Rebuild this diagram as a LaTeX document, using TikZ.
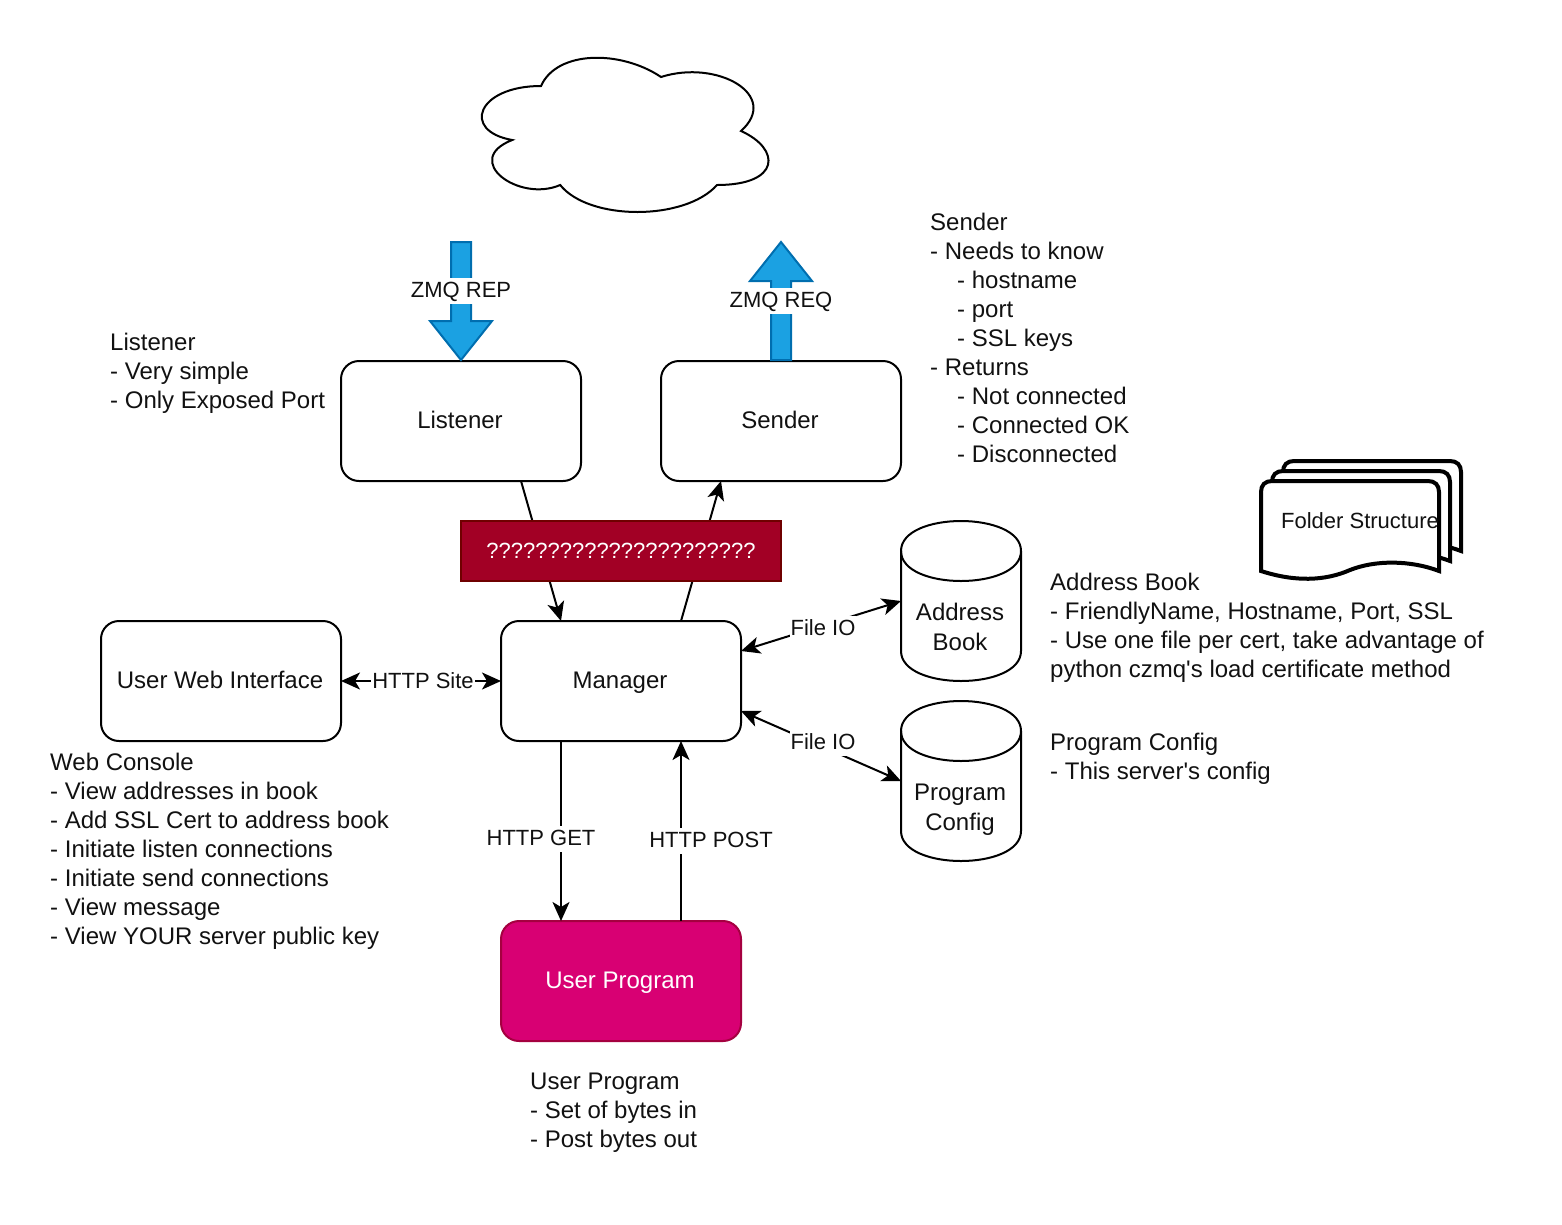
\documentclass[tikz,border=0pt]{standalone}
\usepackage{fontspec}
\setmainfont{Liberation Sans}
\newfontfamily\plainsans{Liberation Sans}
\usetikzlibrary{arrows.meta,calc}
\definecolor{zblue}{HTML}{1BA1E2}
\definecolor{zbluedark}{HTML}{006EAF}
\definecolor{zred}{HTML}{A20025}
\definecolor{zreddark}{HTML}{6F0000}
\definecolor{zpink}{HTML}{D80073}
\definecolor{zpinkdark}{HTML}{A50040}
\definecolor{ztext}{HTML}{111111}
\tikzset{
  x=1pt,y=-1pt,
  basefont/.style={font=\fontsize{24}{29}\selectfont,text=ztext},
  box/.style={basefont,draw=black,line width=2pt,fill=white,rounded corners=18pt,minimum width=240pt,minimum height=120pt,inner sep=0pt,outer sep=0pt,text height=19pt,text depth=5pt,execute at begin node=\kern-2pt},
  pinkbox/.style={box,draw=zpinkdark,fill=zpink,text=white},
  redbox/.style={draw=zreddark,fill=zred,line width=2pt,text=white,minimum width=320pt,minimum height=60pt,inner sep=0pt,outer sep=0pt,font=\fontsize{22}{26}\selectfont},
  note/.style={basefont,anchor=north west,align=left,inner sep=0pt},
  conn/.style={line width=2pt,draw=black,-{Stealth[length=19pt,width=17pt,inset=5pt]}},
  connboth/.style={line width=2pt,draw=black,{Stealth[length=19pt,width=17pt,inset=5pt]}-{Stealth[length=19pt,width=17pt,inset=5pt]}},
  elabel/.style={font=\fontsize{22}{26}\selectfont,text=ztext,fill=white,inner xsep=1pt,inner ysep=2pt,text height=17pt,text depth=5pt},
  flex/.style={draw=zbluedark,fill=zblue,line width=2pt},
  cylbox/.style={minimum width=120pt,minimum height=160pt,inner sep=0pt,outer sep=0pt},
  cyltext/.style={font=\fontsize{24}{30}\selectfont,text=ztext,align=center,inner sep=0pt},
  cloudline/.style={draw=black,line width=2pt,fill=white},
  pageline/.style={draw=black,line width=4pt,fill=white,miter limit=10},
}
\newcommand{\indentnote}{\hspace*{27pt}}
\newcommand{\straightq}{{\plainsans'}}
\newcommand{\pagepath}{(1261,571) -- (1261,492) .. controls (1261,485) and (1265,481) .. (1272,481) -- (1428,481) .. controls (1435,481) and (1439,485) .. (1439,492) -- (1439,571) .. controls (1410,560) and (1375,560) .. (1350,570) .. controls (1325,581) and (1295,582) .. (1261,571) -- cycle}
\begin{document}
\begin{tikzpicture}
\useasboundingbox (0,0) rectangle (1562,1224);
% cloud
\draw[cloudline] (541,86) .. controls (477,86) and (461,131) .. (512.2,140)
  .. controls (461,160) and (518.6,203) .. (560.2,185)
  .. controls (589,221) and (685,221) .. (717,185)
  .. controls (781,185) and (781,149) .. (741,131)
  .. controls (781,95) and (717,59) .. (661,77)
  .. controls (621,50) and (557,50) .. (541,86) -- cycle;
% main boxes
\node[box] (listener) at (461,421) {Listener};
\node[box] (sender) at (781,421) {Sender};
\node[box] (manager) at (621,681) {Manager};
\node[box] (web) at (221,681) {User Web Interface};
\node[pinkbox] (userprog) at (621,981) {User Program};
% ZMQ arrows
\draw[flex] (451,242) -- (471,242) -- (471,321) -- (492,321) -- (461,360) -- (430,321) -- (451,321) -- cycle;
\draw[flex] (781,242) -- (812,281) -- (791,281) -- (791,360) -- (771,360) -- (771,281) -- (750,281) -- cycle;
\node[elabel] (zmqrep) at (461,291) {ZMQ REP};
\node[elabel] (zmqreq) at (781,301) {ZMQ REQ};
% cylinders
\node[cylbox] (addr) at (961,601) {};
\node[cylbox] (prog) at (961,781) {};
\foreach \n in {addr,prog}{
  \begin{scope}[shift={(\n.north west)}]
    \draw[line width=2pt,fill=white] (0,30) .. controls (0,-10) and (120,-10) .. (120,30) -- (120,130) .. controls (120,170) and (0,170) .. (0,130) -- cycle;
    \draw[line width=2pt] (0,30) .. controls (0,70) and (120,70) .. (120,30);
  \end{scope}
}
\node[cyltext] (addrtext) at (960,627) {Address\\Book};
\node[cyltext] (progtext) at (960,809.5) {Program\\Config};
% connectors
\coordinate (lout) at ($(listener.south west)+(180,0)$);
\coordinate (min) at ($(manager.north west)+(60,0)$);
\coordinate (mout) at ($(manager.north west)+(180,0)$);
\coordinate (sin) at ($(sender.south west)+(60,0)$);
\coordinate (mgetout) at ($(manager.south west)+(60,0)$);
\coordinate (mpostin) at ($(manager.south west)+(180,0)$);
\coordinate (ugetin) at ($(userprog.north west)+(60,0)$);
\coordinate (upostout) at ($(userprog.north west)+(180,0)$);
\coordinate (mfile1) at ($(manager.north east)+(0,30)$);
\coordinate (mfile2) at ($(manager.north east)+(0,90)$);
\coordinate (afile) at ($(addr.west)$);
\coordinate (pfile) at ($(prog.west)$);
\draw[conn] (lout) -- (min);
\draw[conn] (mout) -- (sin);
\draw[connboth] (web.east) -- (manager.west);
\draw[connboth] (mfile1) -- (afile);
\draw[connboth] (mfile2) -- (pfile);
\draw[conn] (mgetout) -- (ugetin);
\draw[conn] (upostout) -- (mpostin);
\node[elabel] (httpsite) at (423,682) {HTTP Site};
\node[elabel] (fileio1) at (823,629) {File IO};
\node[elabel] (fileio2) at (823,743) {File IO};
\node[elabel] (httpget) at (541,839) {HTTP GET};
\node[elabel] (httppost) at (711,841) {HTTP POST};
% red box
\node[redbox] (qbox) at (621,551) {??????????????????????};
% document stack
\begin{scope}[shift={(22,-20)}]\draw[pageline] \pagepath;\end{scope}
\begin{scope}[shift={(11,-10)}]\draw[pageline] \pagepath;\end{scope}
\draw[pageline] \pagepath;
\node[font=\fontsize{22}{26}\selectfont,text=ztext,inner sep=0pt] (folder) at (1360,521) {Folder Structure};
% notes
\node[note] (nlistener) at (110,332.5) {Listener\\- Very simple\\- Only Exposed Port};
\node[note] (nsender) at (930,212.5) {Sender\\- Needs to know\\\indentnote- hostname\\\indentnote- port\\\indentnote- SSL keys\\- Returns\\\indentnote- Not connected\\\indentnote- Connected OK\\\indentnote- Disconnected};
\node[note] (naddr) at (1050,572.5) {Address Book\\- FriendlyName, Hostname, Port, SSL\\- Use one file per cert, take advantage of\\python czmq\straightq s load certificate method};
\node[note] (nprog) at (1050,732.5) {Program Config\\- This server\straightq s config};
\node[note] (nweb) at (50,752.5) {Web Console\\- View addresses in book\\- Add SSL Cert to address book\\- Initiate listen connections\\- Initiate send connections\\- View message\\- View YOUR server public key};
\node[note] (nuser) at (530,1072.5) {User Program\\- Set of bytes in\\- Post bytes out};
\end{tikzpicture}
\end{document}
